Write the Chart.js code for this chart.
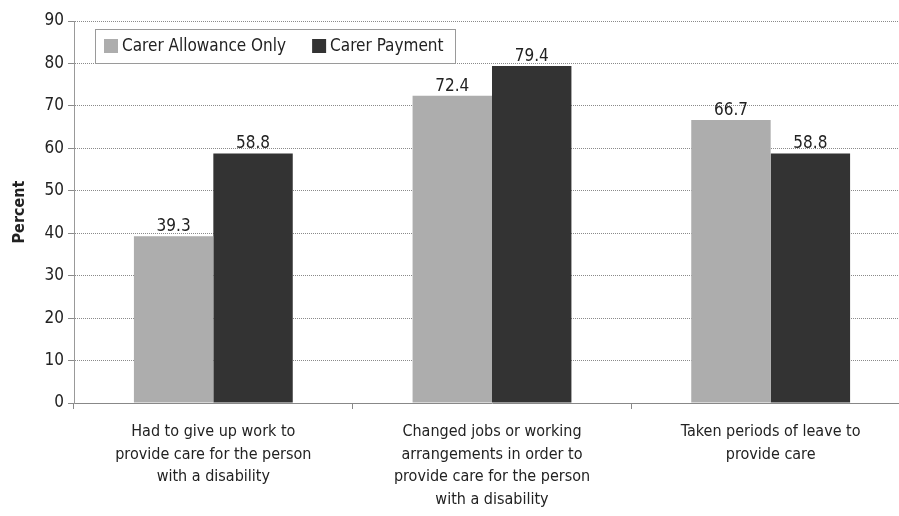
<!DOCTYPE html>
<html>
<head>
<meta charset="utf-8">
<script src="https://cdn.jsdelivr.net/npm/chart.js@4/dist/chart.umd.min.js"></script>
<style>
  html, body { margin: 0; padding: 0; background: #fff; overflow: hidden; }
  #wrap { width: 910px; height: 516px; position: relative; }
</style>
</head>
<body>
<div id="wrap"><canvas id="c" width="910" height="516"></canvas></div>
<script>
const categories = [
  ["Had to give up work to", "provide care for the person", "with a disability"],
  ["Changed jobs or working", "arrangements in order to", "provide care for the person", "with a disability"],
  ["Taken periods of leave to", "provide care"]
];
const seriesNames = ["Carer Allowance Only", "Carer Payment"];
const carerAllowanceOnly = [39.3, 72.4, 66.7];
const carerPayment = [58.8, 79.4, 58.8];
const yTicks = [0, 10, 20, 30, 40, 50, 60, 70, 80, 90];

const FONT = "'Liberation Sans Narrow', 'DejaVu Sans Condensed', 'Noto Sans', sans-serif";
const colors = ["#adadad", "#333333"];

const valueLabels = {
  id: 'valueLabels',
  afterDatasetsDraw(chart) {
    const ctx = chart.ctx;
    ctx.save();
    ctx.font = "17px " + FONT;
    ctx.fillStyle = "#222";
    ctx.textAlign = "center";
    ctx.textBaseline = "bottom";
    chart.data.datasets.forEach((ds, di) => {
      chart.getDatasetMeta(di).data.forEach((bar, i) => {
        ctx.fillText(ds.data[i].toFixed(1), bar.x, bar.y - 1);
      });
    });
    ctx.restore();
  }
};

const boxLegend = {
  id: 'boxLegend',
  afterDraw(chart) {
    const ctx = chart.ctx;
    const area = chart.chartArea;
    const x0 = area.left + 21, y0 = area.top + 8, w = 360, h = 34;
    ctx.save();
    ctx.fillStyle = "#fff";
    ctx.fillRect(x0, y0, w, h);
    ctx.strokeStyle = "#9a9a9a";
    ctx.lineWidth = 1;
    ctx.strokeRect(x0 + 0.5, y0 + 0.5, w, h);
    ctx.font = "17px " + FONT;
    ctx.textBaseline = "middle";
    ctx.textAlign = "left";
    let x = x0 + 9;
    const cy = y0 + h / 2;
    chart.data.datasets.forEach((ds, i) => {
      ctx.fillStyle = ds.backgroundColor;
      ctx.fillRect(x, cy - 7, 14, 14);
      ctx.fillStyle = "#222";
      ctx.fillText(ds.label, x + 18, cy + 1);
      x += 18 + ctx.measureText(ds.label).width + 26;
    });
    ctx.restore();
  }
};

new Chart(document.getElementById('c'), {
  type: 'bar',
  data: {
    labels: categories,
    datasets: [
      { label: seriesNames[0], data: carerAllowanceOnly, backgroundColor: colors[0] },
      { label: seriesNames[1], data: carerPayment, backgroundColor: colors[1] }
    ]
  },
  options: {
    responsive: false,
    animation: false,
    devicePixelRatio: 1,
    layout: { padding: { left: 10, right: 0, top: 21, bottom: 0 } },
    datasets: { bar: { categoryPercentage: 0.57, barPercentage: 1.0 } },
    plugins: { legend: { display: false }, tooltip: { enabled: false } },
    scales: {
      x: {
        grid: { display: true, drawOnChartArea: false, offset: true, tickLength: 6, color: "#888" },
        border: { color: "#888" },
        ticks: { color: "#222", font: { family: FONT, size: 16, lineHeight: 1.4 }, padding: 12, maxRotation: 0, autoSkip: false },
        afterFit(s) { s.height = 113; }
      },
      y: {
        min: 0, max: 90,
        afterBuildTicks(s) { s.ticks = yTicks.map(v => ({ value: v })); },
        grid: { color: "#8a8a8a", tickLength: 6, tickBorderDash: [], drawTicks: true },
        border: { color: "#999", dash: [1, 1] },
        ticks: { color: "#222", font: { family: FONT, size: 17 }, padding: 4 },
        title: { display: true, text: "Percent", color: "#222", font: { family: FONT, size: 16, weight: 'bold' }, padding: { top: 0, bottom: 8 } },
        afterFit(s) { s.width = 64; }
      }
    }
  },
  plugins: [valueLabels, boxLegend]
});
</script>
</body>
</html>
